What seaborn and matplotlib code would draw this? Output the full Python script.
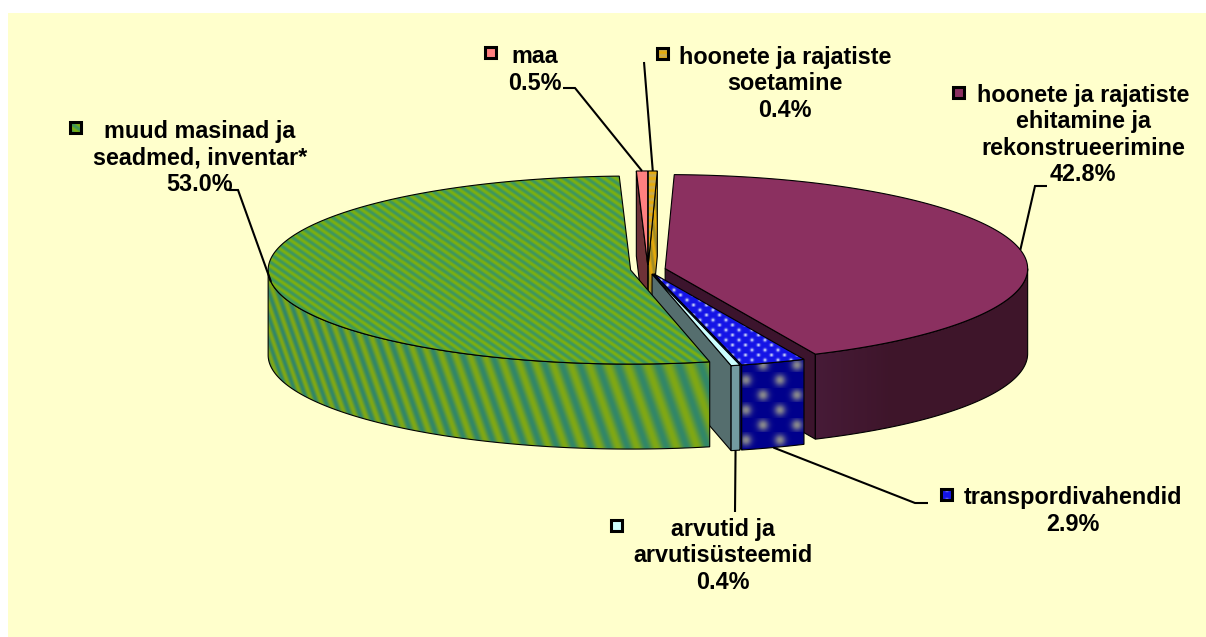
import numpy as np
import matplotlib
matplotlib.use("Agg")
import matplotlib.pyplot as plt
from matplotlib.patches import Polygon, Rectangle
import seaborn as sns

# ---- data ----
categories = ["hoonete ja rajatiste\nehitamine ja\nrekonstrueerimine",
              "transpordivahendid",
              "arvutid ja\narvutisüsteemid",
              "muud masinad ja\nseadmed, inventar*",
              "maa",
              "hoonete ja rajatiste\nsoetamine"]
shares = [42.8, 2.9, 0.4, 53.0, 0.5, 0.4]

# ---- style ----
top_colors = ["#8B3060", "#1414E6", "#CCFFFF", "#5C9C40", "#FF8080", "#E6AA10"]
side_colors = ["#3C142D", "#00008C", "#556E6E", "#5C9C40", "#6E3237", "#C8A014"]
wall_colors = ["#46183A", "#00008C", "#739BA0", "#5C9C40", "#6E3237", "#C8A014"]
palette = sns.color_palette(top_colors)
BG = "#FFFFCC"

label_pos = [(1083, 135), (1073, 511), (723, 556), (200, 158), (535, 70), (785, 84)]
key_pos = [(958, 92), (946, 494), (616, 525), (75.5, 127.5), (490.5, 52.5), (662, 53)]
leader_pts = [[(1047, 186), (1035, 186)], [(928, 503), (915, 503)], [(735, 512)],
              [(229, 190), (238, 190)], [(563, 88), (575, 88)], [(644, 62)]]

# geometry of the projected disc
CX, CY, RX, RY, DEPTH, EXPLODE, START = 648.0, 269.5, 362.5, 94.0, 85.0, 17.5, 1.44

sns.set_theme(style="white")
plt.rcParams["font.family"] = ["Liberation Sans", "DejaVu Sans"]
fig = plt.figure(figsize=(12.06, 6.37), dpi=100, facecolor="white")
ax = fig.add_axes([0, 0, 1, 1])
ax.set_axis_off()
ax.set_xlim(0, 1206)
ax.set_ylim(637, 0)
ax.add_patch(Rectangle((8, 13), 1198, 624, fc=BG, ec="none", zorder=0))
z = [1]


def nz():
    z[0] += 1
    return z[0]


def rgb(c):
    return np.array(matplotlib.colors.to_rgb(c))


def blend(c1, c2, t):
    return rgb(c1)[None, None, :] * (1 - t[..., None]) + rgb(c2)[None, None, :] * t[..., None]


def tex_green_top(x, y, o):
    t = 0.5 + 0.5 * np.sin(2 * np.pi * (x / 11.5 - y / 8.0))
    return blend("#3C9660", "#7DB00F", t)


def tex_green_wall(x, y, o):
    u = x - 0.35 * (y - 400)
    per = np.clip(8.0 + 0.0327 * (u - 280), 4, None)
    t = 0.5 + 0.5 * np.sin(2 * np.pi * np.log(per) / 0.0327)
    return blend("#328768", "#80A814", t)


def tex_dots(x, y, px, py, sig, base, dot, gain=1.0):
    u = x / px
    v = y / py
    row = np.round(v)
    dy = (v - row) * py
    dx = (u - 0.5 * (row % 2) - np.round(u - 0.5 * (row % 2))) * px
    t = gain * np.exp(-(dx ** 2 + dy ** 2) / (2 * sig ** 2))
    return blend(base, dot, t)


def tex_blue_top(x, y, o):
    return tex_dots(x + 2, y, 13.0, 5.0, 1.2, "#1414E6", "#C8D2FA")


def tex_blue_wall(x, y, o):
    return tex_dots(x - 746, y - 380, 34.0, 15.0, 4.0, "#00008C", "#A0A08C", 0.85)


def tex_yellow_top(x, y, o):
    t = 0.5 + 0.5 * np.sin(2 * np.pi * y / 6.0)
    return blend("#E6AA0A", "#C8AA50", t)


def tex_yellow_side(x, y, o):
    t = 0.5 + 0.5 * np.sin(2 * np.pi * (x / 6.0 - y / 40.0))
    return blend("#E6AA0A", "#A08C28", t)


def tex_purple_wall(x, y, o):
    t = np.clip((x - 814) / 80.0, 0, 1)
    return blend("#471B38", "#3E152A", t)


def draw_poly(pts, fc=None, tex=None, origin=(0, 0), lw=0.8):
    pts = np.asarray(pts)
    zo = nz()
    if tex is None:
        ax.add_patch(Polygon(pts, closed=True, fc=fc, ec="black", lw=lw, zorder=zo))
        return
    x0, y0 = np.floor(pts.min(axis=0)) - 1
    x1, y1 = np.ceil(pts.max(axis=0)) + 1
    xx, yy = np.meshgrid(np.arange(x0, x1) + 0.5, np.arange(y0, y1) + 0.5)
    img = tex(xx, yy, origin)
    im = ax.imshow(np.clip(img, 0, 1), extent=(x0, x1, y1, y0), aspect="auto",
                   interpolation="bilinear", zorder=zo)
    clip = Polygon(pts, closed=True, transform=ax.transData)
    im.set_clip_path(clip)
    ax.add_patch(Polygon(pts, closed=True, fc="none", ec="black", lw=lw, zorder=zo + 0.5))


def rim(apex, a):
    a = np.radians(a)
    return np.column_stack([apex[0] + RX * np.sin(a), apex[1] - RY * np.cos(a)])


# slice angles from the shares
edges = START + np.concatenate([[0], np.cumsum(shares)]) * 3.6
down = np.array([0, DEPTH])

apexes = []
for i in range(len(shares)):
    m = np.radians((edges[i] + edges[i + 1]) / 2)
    apexes.append(np.array([CX + EXPLODE * np.sin(m), CY - EXPLODE * np.cos(m) * RY / RX]))

top_tex = {1: tex_blue_top, 3: tex_green_top, 5: tex_yellow_top}
wall_tex = {0: tex_purple_wall, 1: tex_blue_wall, 3: tex_green_wall}
side_tex = {5: tex_yellow_side}

# painter's order: back slices first, green (front-left) last
for i in [4, 5, 0, 1, 2, 3]:
    a0, a1 = edges[i], edges[i + 1]
    apex = apexes[i]
    # cut faces turned to the viewer
    for ang, sign in ((a0, -1), (a1, 1)):
        r = np.radians(ang)
        if sign * (-np.sin(r)) < 0:
            p = rim(apex, np.array([ang]))[0]
            draw_poly([apex, p, p + down, apex + down], fc=side_colors[i], tex=side_tex.get(i), origin=apex)
    # outer wall, front half only
    lo, hi = max(a0, 90), min(a1, 270)
    if hi > lo:
        arc = rim(apex, np.linspace(lo, hi, 120))
        draw_poly(np.vstack([arc, arc[::-1] + down]), fc=wall_colors[i], tex=wall_tex.get(i), origin=apex)
    # top
    arc = rim(apex, np.linspace(a0, a1, 200))
    draw_poly(np.vstack([[apex], arc]), fc=top_colors[i], tex=top_tex.get(i), origin=apex)

# leader lines, ending on the rim at each slice's middle
for i in range(len(shares)):
    mid = (edges[i] + edges[i + 1]) / 2
    p = rim(apexes[i], np.array([mid]))[0]
    if 90 < (mid % 360) < 270 and i in (1, 2):
        p = p + down
    pts = np.vstack([leader_pts[i], p])
    ax.plot(pts[:, 0], pts[:, 1], color="black", lw=1.5, solid_capstyle="butt",
            solid_joinstyle="miter", zorder=nz())

# labels
for i, (name, share) in enumerate(zip(categories, shares)):
    t = ax.text(label_pos[i][0], label_pos[i][1], f"{name}\n{share:.1f}%", ha="center", va="center",
                fontsize=16.8, fontweight="bold", color="black", linespacing=1.18, zorder=nz())

# legend keys
for i, (kx, ky) in enumerate(key_pos):
    h = 5.5
    sq = [(kx - h, ky - h), (kx + h, ky - h), (kx + h, ky + h), (kx - h, ky + h)]
    draw_poly(sq, fc=palette[i], tex=top_tex.get(i), lw=2.2)

ax.set_xlim(0, 1206)
ax.set_ylim(637, 0)
fig.savefig("out.png", dpi=100)
